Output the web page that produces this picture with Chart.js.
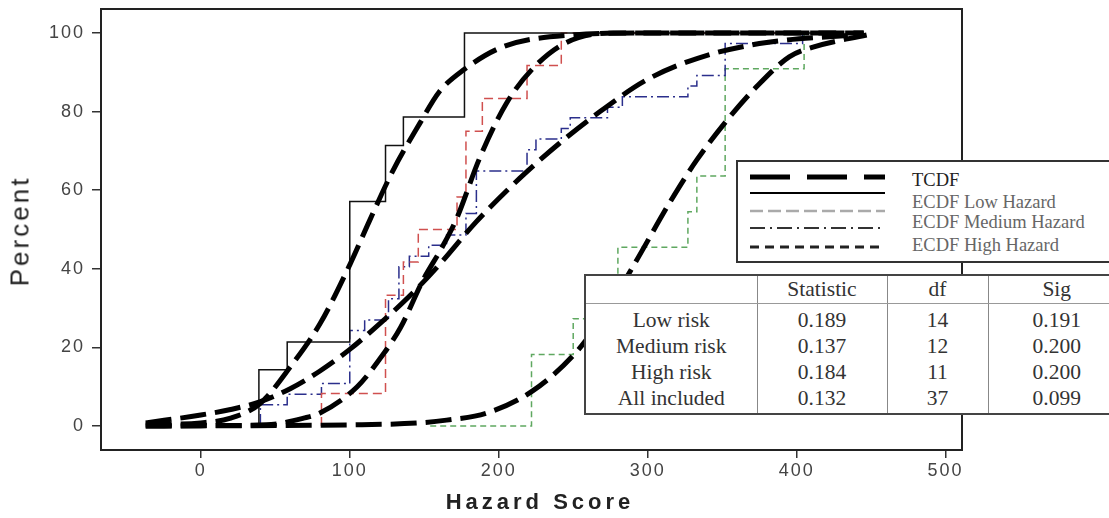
<!DOCTYPE html>
<html>
<head>
<meta charset="utf-8">
<script src="https://cdn.jsdelivr.net/npm/chart.js@4.4.0/dist/chart.umd.min.js"></script>
<style>
body{margin:0;background:#fff;}
#wrap{position:relative;width:1109px;height:518px;overflow:hidden;font-family:"Liberation Sans",Arial,sans-serif;background:#fff;}
#chart{position:absolute;left:0;top:0;}
.ytitle{position:absolute;left:20px;top:231px;transform:translate(-50%,-50%) rotate(-90deg);font-size:26px;letter-spacing:3px;color:#222;white-space:nowrap;}
.xtitle{position:absolute;left:540px;top:502px;transform:translate(-50%,-50%);font-size:22px;font-weight:bold;letter-spacing:4px;color:#222;white-space:nowrap;}
#legend{position:absolute;left:736px;top:160px;width:380px;height:103px;border:2px solid #333;background:#fff;box-sizing:border-box;}
#legend svg{position:absolute;left:0;top:0;}
.lg{position:absolute;left:174px;font-family:"Liberation Serif",serif;font-size:18.5px;color:#666;white-space:nowrap;transform:translateY(-50%);}
#stats{position:absolute;left:584px;top:274px;border-collapse:collapse;background:#fff;font-family:"Liberation Serif",serif;font-size:21.5px;color:#333;table-layout:fixed;width:540px;}
#stats th,#stats td{text-align:center;padding:0;font-weight:normal;border-left:1px solid #888;white-space:nowrap;}
#stats th{height:27px;border-bottom:1px solid #999;}
#stats td{height:26px;line-height:26px;}
#stats tr:first-child th{border-top:2px solid #444;}
#stats tbody tr:first-child td{padding-top:3px;}
#stats tbody tr:last-child td{border-bottom:2px solid #444;padding-bottom:2px;}
#stats tr > *:first-child{border-left:2px solid #444;}
</style>
</head>
<body>
<div id="wrap">
  <canvas id="chart" width="1109" height="518"></canvas>
  <div class="ytitle">Percent</div>
  <div class="xtitle">Hazard Score</div>
  <div id="legend"></div>
  <table id="stats"></table>
</div>
<script>
// axis ticks
const xTicks = [0, 100, 200, 300, 400, 500];
const yTicks = [0, 20, 40, 60, 80, 100];

// fitted (theoretical) CDF curves
const tcdfLowX  = [-37, 0, 20, 40, 60, 80, 100, 113, 129, 147, 160, 176, 203, 250, 300, 445];
const tcdfLowY  = [0.3, 0.8, 2, 5.8, 15, 26, 41, 52, 65, 77, 85, 90.5, 96.5, 99.5, 100, 100];
const tcdfMedX  = [-37, 0, 44, 69, 80, 105, 120, 134, 149, 162, 172, 187, 205, 223, 245, 277, 445];
const tcdfMedY  = [0, 0.1, 0.3, 2, 3.3, 10, 17, 25, 37, 45.5, 53, 68, 82, 91, 97.5, 100, 100];
const tcdfAllX  = [-37, 0, 20, 40, 60, 80, 100, 120, 140, 160, 185, 214, 241, 268, 299, 333, 375, 445];
const tcdfAllY  = [0.8, 2.8, 4.2, 6.2, 9.5, 14, 19.5, 26, 33, 41, 52, 63, 72, 80, 88, 93.5, 97.3, 99.7];
const tcdfHighX = [-37, 100, 147, 165, 192, 223, 252, 270, 290, 315, 333, 355, 373, 395, 411, 447];
const tcdfHighY = [0, 0.3, 0.8, 1.5, 3.3, 9, 18.8, 28, 40.5, 57, 67.7, 78.6, 86.3, 93.9, 96.4, 99.5];

// empirical CDF steps (jump at x to y)
const lowX  = [39, 39, 58, 100, 124, 136, 177, 410];
const lowY  = [0, 14.3, 21.4, 57.1, 71.4, 78.6, 100, 100];
const medX  = [81, 81, 124, 136, 146, 172, 178, 189, 219, 242, 405];
const medY  = [0, 8.3, 33.3, 41.7, 50, 58.3, 75, 83.3, 91.7, 100, 100];
const allX  = [40, 40, 58, 81, 100, 110, 126, 133, 140, 153, 165, 178, 185, 219, 225, 242, 248, 273, 283, 327, 333, 352, 404, 404];
const allY  = [0, 5.4, 8.1, 10.8, 24.3, 27, 32.4, 40.5, 43.2, 46, 48.6, 54.1, 64.9, 70.3, 73, 75.7, 78.4, 81.1, 83.8, 86.5, 89.2, 97.3, 97.3, 100];
const highX = [154, 222, 250, 280, 327, 333, 352, 405, 405];
const highY = [0, 18.2, 27.3, 45.5, 54.5, 63.6, 90.9, 90.9, 100];

// legend + test table
const legendLabels = ['TCDF', 'ECDF Low Hazard', 'ECDF Medium Hazard', 'ECDF High Hazard'];
const tableHead = ['', 'Statistic', 'df', 'Sig'];
const groups = ['Low risk', 'Medium risk', 'High risk', 'All included'];
const statistic = ['0.189', '0.137', '0.184', '0.132'];
const dfs = ['14', '12', '11', '37'];
const sig = ['0.191', '0.200', '0.200', '0.099'];

const pts = (xs, ys) => xs.map((x, i) => ({x, y: ys[i]}));

function tcdf(xs, ys){
  return { data: pts(xs, ys), borderColor:'#000', borderWidth:5, borderDash:[26,9],
    borderCapStyle:'butt', pointRadius:0, cubicInterpolationMode:'monotone', order:0 };
}
function ecdf(xs, ys, color, dash, w){
  return { data: pts(xs, ys), borderColor:color, borderWidth:w||1.5, borderDash:dash,
    stepped:true, pointRadius:0, order:1 };
}

const frame = {
  id:'frame',
  beforeDraw(c){ c.ctx.letterSpacing = '2px'; },
  afterDatasetsDraw(c){
    const a = c.chartArea, ctx = c.ctx;
    ctx.save();
    ctx.setLineDash([]);
    ctx.strokeStyle = '#222'; ctx.lineWidth = 2;
    ctx.strokeRect(a.left, a.top, a.right-a.left, a.bottom-a.top);
    ctx.restore();
  }
};

const tickFont = {family:'"Liberation Sans", Arial, sans-serif', size:18};
const noOverhang = s => { s.paddingTop = 0; s.paddingBottom = 0; s.paddingLeft = 0; s.paddingRight = 0; };

new Chart(document.getElementById('chart'), {
  type:'line',
  data:{ datasets:[
    tcdf(tcdfLowX, tcdfLowY), tcdf(tcdfMedX, tcdfMedY), tcdf(tcdfAllX, tcdfAllY), tcdf(tcdfHighX, tcdfHighY),
    ecdf(lowX, lowY, '#111', [], 1.5),
    ecdf(medX, medY, '#d0504f', [9,5]),
    ecdf(allX, allY, '#2b2f8c', [12,4,2,4]),
    ecdf(highX, highY, '#5fa860', [6,4])
  ]},
  options:{
    responsive:false, animation:false, devicePixelRatio:1,
    layout:{ padding:{left:0, right:147, top:9, bottom:0} },
    plugins:{ legend:{display:false}, tooltip:{enabled:false} },
    scales:{
      x:{ type:'linear', min:-67, max:511,
        afterBuildTicks: s => { s.ticks = xTicks.map(v => ({value:v})); },
        afterFit: s => { s.height = 68; noOverhang(s); },
        grid:{ drawOnChartArea:false, tickLength:8, color:'#333', lineWidth:1.5 },
        border:{ display:false },
        ticks:{ font:tickFont, color:'#444', padding:2, maxRotation:0 } },
      y:{ min:-6.1, max:106.1,
        afterBuildTicks: s => { s.ticks = yTicks.map(v => ({value:v})); },
        afterFit: s => { s.width = 101; noOverhang(s); },
        grid:{ drawOnChartArea:false, tickLength:9, color:'#333', lineWidth:1.5 },
        border:{ display:false },
        ticks:{ font:tickFont, color:'#444', padding:7 } }
    }
  },
  plugins:[frame]
});

// legend box
const lg = document.getElementById('legend');
const rowsY = [15, 31, 49, 66, 85];
const styles = [
  {c:'#000', w:5, d:'40 17'},
  {c:'#000', w:2, d:''},
  {c:'#aaa', w:2.5, d:'13 5'},
  {c:'#333', w:2, d:'15 5 2 5'},
  {c:'#222', w:3, d:'9 6'}
];
let svg = '<svg width="372" height="99">';
styles.forEach((s, i) => {
  svg += `<line x1="12" x2="147" y1="${rowsY[i]}" y2="${rowsY[i]}" stroke="${s.c}" stroke-width="${s.w}" stroke-dasharray="${s.d}"/>`;
});
svg += '</svg>';
lg.innerHTML = svg;
const labelY = [18, 40, 60, 83];
legendLabels.forEach((t, i) => {
  const d = document.createElement('div');
  d.className = 'lg'; d.textContent = t; d.style.top = labelY[i] + 'px';
  if(i === 0) d.style.color = '#222';
  lg.appendChild(d);
});

// stats table
const tbl = document.getElementById('stats');
const colW = [172, 130, 101, 137];
let html = '<colgroup>' + colW.map(w => `<col style="width:${w}px">`).join('') + '</colgroup>';
html += '<thead><tr>' + tableHead.map(h => `<th>${h}</th>`).join('') + '</tr></thead><tbody>';
groups.forEach((g, i) => {
  html += `<tr><td>${g}</td><td>${statistic[i]}</td><td>${dfs[i]}</td><td>${sig[i]}</td></tr>`;
});
html += '</tbody>';
tbl.innerHTML = html;
</script>
</body>
</html>
